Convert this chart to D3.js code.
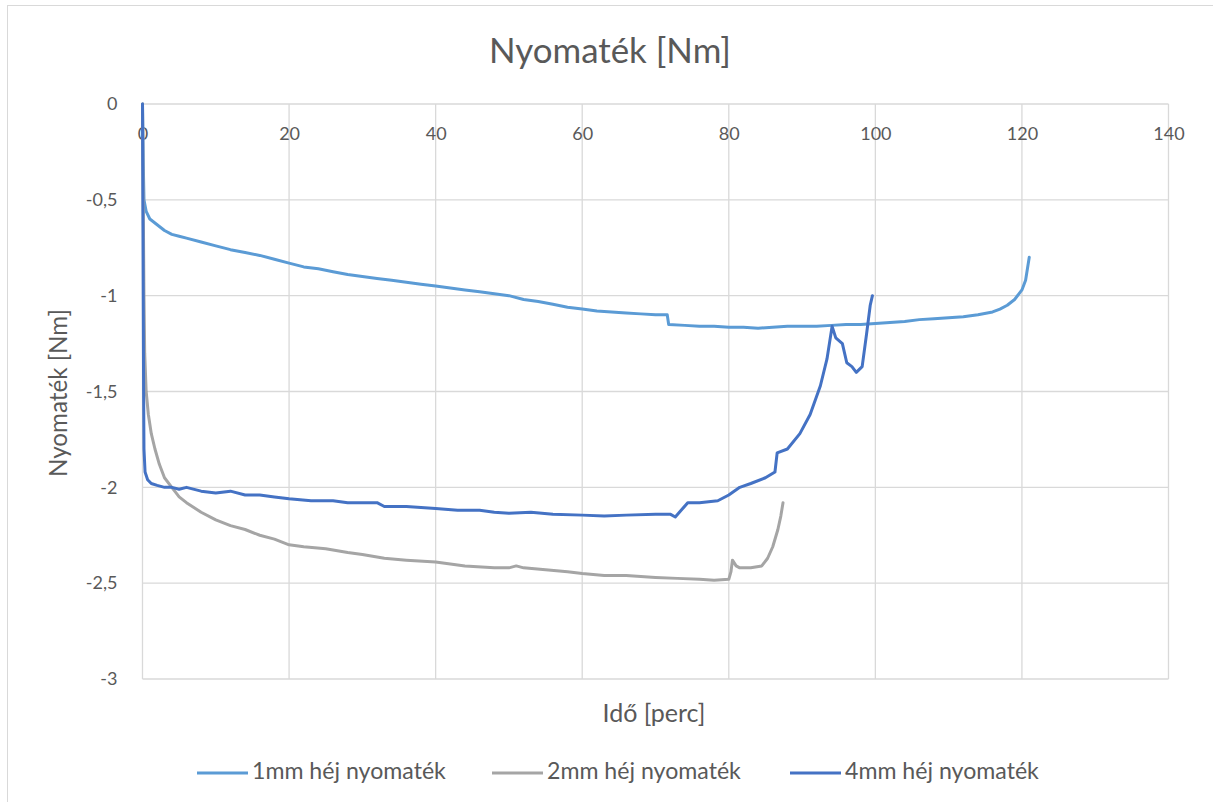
<!DOCTYPE html>
<html><head><meta charset="utf-8">
<script src="https://cdn.jsdelivr.net/npm/d3@7"></script>
<style>html,body{margin:0;padding:0;background:#fff}svg{display:block}text{font-family:Lato,"Open Sans",sans-serif}</style>
</head><body>
<svg id="chart" width="1213" height="802"></svg>
<script>
const chartTitle = "Nyomaték [Nm]";
const xTitle = "Idő [perc]";
const yTitle = "Nyomaték  [Nm]";
const xTicks = [0, 20, 40, 60, 80, 100, 120, 140];
const yTicks = [0, -0.5, -1, -1.5, -2, -2.5, -3];
const seriesNames = ["1mm héj nyomaték", "2mm héj nyomaték", "4mm héj nyomaték"];
const seriesColors = ["#5B9BD5", "#A5A5A5", "#4472C4"];

const s1mm = [[0,0],[0.1,-0.3],[0.2,-0.5],[0.5,-0.56],[1,-0.6],[2,-0.63],[3,-0.66],[4,-0.68],[5,-0.69],[6,-0.70],[8,-0.72],[10,-0.74],[12,-0.76],[14,-0.775],[16,-0.79],[18,-0.81],[20,-0.83],[22,-0.85],[24,-0.86],[26,-0.875],[28,-0.89],[30,-0.90],[32,-0.91],[34,-0.92],[36,-0.93],[38,-0.94],[40,-0.95],[42,-0.96],[44,-0.97],[46,-0.98],[48,-0.99],[50,-1.00],[52,-1.02],[54,-1.03],[56,-1.045],[58,-1.06],[60,-1.07],[62,-1.08],[64,-1.085],[66,-1.09],[68,-1.095],[70,-1.10],[71.6,-1.10],[71.8,-1.15],[74,-1.155],[76,-1.16],[78,-1.16],[80,-1.165],[82,-1.165],[84,-1.17],[86,-1.165],[88,-1.16],[90,-1.16],[92,-1.16],[94,-1.155],[96,-1.15],[98,-1.15],[100,-1.145],[102,-1.14],[104,-1.135],[106,-1.125],[108,-1.12],[110,-1.115],[112,-1.11],[114,-1.10],[116,-1.085],[117,-1.07],[118,-1.05],[119,-1.02],[120,-0.97],[120.5,-0.92],[121,-0.80]];
const s2mm = [[0,0],[0.1,-0.5],[0.2,-1.0],[0.3,-1.3],[0.5,-1.5],[0.8,-1.62],[1.2,-1.72],[1.7,-1.8],[2.3,-1.88],[3,-1.95],[4,-2.0],[5,-2.05],[6,-2.08],[8,-2.13],[10,-2.17],[12,-2.2],[14,-2.22],[16,-2.25],[18,-2.27],[20,-2.3],[22,-2.31],[25,-2.32],[28,-2.34],[30,-2.35],[33,-2.37],[36,-2.38],[40,-2.39],[44,-2.41],[48,-2.42],[50,-2.42],[51,-2.41],[52,-2.42],[55,-2.43],[58,-2.44],[60,-2.45],[63,-2.46],[66,-2.46],[70,-2.47],[73,-2.475],[76,-2.48],[78,-2.485],[80,-2.48],[80.3,-2.44],[80.5,-2.38],[81,-2.41],[81.5,-2.42],[83,-2.42],[84.5,-2.41],[85.3,-2.37],[86,-2.31],[86.7,-2.22],[87.1,-2.15],[87.4,-2.08]];
const s4mm = [[0,0],[0.05,-0.5],[0.1,-1.0],[0.15,-1.5],[0.2,-1.8],[0.35,-1.92],[0.7,-1.96],[1.2,-1.98],[2,-1.99],[3,-2.0],[4,-2.0],[5,-2.01],[6,-2.0],[8,-2.02],[10,-2.03],[12,-2.02],[14,-2.04],[16,-2.04],[18,-2.05],[20,-2.06],[23,-2.07],[26,-2.07],[28,-2.08],[30,-2.08],[32,-2.08],[33,-2.1],[36,-2.1],[40,-2.11],[43,-2.12],[46,-2.12],[48,-2.13],[50,-2.135],[53,-2.13],[56,-2.14],[60,-2.145],[63,-2.15],[66,-2.145],[70,-2.14],[72,-2.14],[72.7,-2.155],[73.5,-2.12],[74.4,-2.08],[76,-2.08],[78.5,-2.07],[80,-2.04],[81.5,-2.0],[83,-1.98],[85,-1.95],[86.3,-1.92],[86.6,-1.82],[88,-1.8],[89.7,-1.72],[91.1,-1.62],[92.5,-1.47],[93.4,-1.33],[94.1,-1.16],[94.6,-1.22],[95.5,-1.25],[96.1,-1.35],[96.8,-1.37],[97.4,-1.40],[98.2,-1.37],[98.8,-1.2],[99.3,-1.05],[99.6,-1.0]];
const allSeries = [s1mm, s2mm, s4mm];

const svg = d3.select("#chart");
const txt = "#595959", grid = "#d9d9d9";
svg.append("rect").attr("width",1213).attr("height",802).attr("fill","#fff");
svg.append("rect").attr("x",7.5).attr("y",5.5).attr("width",1230).attr("height",820).attr("fill","none").attr("stroke",grid);

const x = d3.scaleLinear().domain([0,140]).range([142.5,1168.5]);
const y = d3.scaleLinear().domain([-3,0]).range([679,104]);
const fmt = d => String(d).replace(".", ",");

function fit(sel, target){
  const w = sel.node().getComputedTextLength();
  const fs = parseFloat(sel.attr("font-size"));
  sel.attr("font-size", fs*target/w);
}

// grid
svg.append("g").selectAll("line").data(xTicks).join("line")
  .attr("x1",d=>x(d)).attr("x2",d=>x(d)).attr("y1",y(0)).attr("y2",y(-3))
  .attr("stroke",grid).attr("stroke-width",1.3);
svg.append("g").selectAll("line").data(yTicks).join("line")
  .attr("x1",x(0)).attr("x2",x(140)).attr("y1",d=>y(d)).attr("y2",d=>y(d))
  .attr("stroke",grid).attr("stroke-width",1.3);

// axes
const xa = svg.append("g").attr("transform",`translate(0,${y(0)})`)
  .call(d3.axisBottom(x).tickValues(xTicks).tickSize(0).tickPadding(23).tickFormat(fmt));
xa.select(".domain").remove();
xa.selectAll("text").attr("fill",txt).attr("font-size",18).attr("font-family","Lato");
const ya = svg.append("g").attr("transform",`translate(${x(0)},0)`)
  .call(d3.axisLeft(y).tickValues(yTicks).tickSize(0).tickPadding(25).tickFormat(fmt));
ya.select(".domain").remove();
ya.selectAll("text").attr("fill",txt).attr("font-size",18).attr("font-family","Lato");

// lines
const line = d3.line().x(d=>x(d[0])).y(d=>y(d[1]));
svg.append("g").selectAll("path").data(allSeries).join("path")
  .attr("d",line).attr("fill","none").attr("stroke",(d,i)=>seriesColors[i])
  .attr("stroke-width",3).attr("stroke-linejoin","round").attr("stroke-linecap","round");

// titles
const t = svg.append("text").attr("x",610).attr("y",63).attr("text-anchor","middle")
  .attr("fill",txt).attr("font-size",25).text(chartTitle);
fit(t, 242);
const xt = svg.append("text").attr("x",654).attr("y",722).attr("text-anchor","middle")
  .attr("fill",txt).attr("font-size",17).text(xTitle);
fit(xt, 103);
const yt = svg.append("text").attr("transform","translate(67,393) rotate(-90)").attr("text-anchor","middle")
  .attr("fill",txt).attr("font-size",17).text(yTitle);
fit(yt, 168);

// legend
const legX = [197, 492, 790];
const lg = svg.append("g").selectAll("g").data(seriesNames).join("g")
  .attr("transform",(d,i)=>`translate(${legX[i]},773)`);
lg.append("line").attr("x1",0).attr("x2",51).attr("stroke",(d,i)=>seriesColors[i]).attr("stroke-width",3);
lg.append("text").attr("x",55).attr("y",6).attr("fill",txt).attr("font-size",16).text(d=>d)
  .each(function(){ fit(d3.select(this), 194); });
</script>
</body></html>
